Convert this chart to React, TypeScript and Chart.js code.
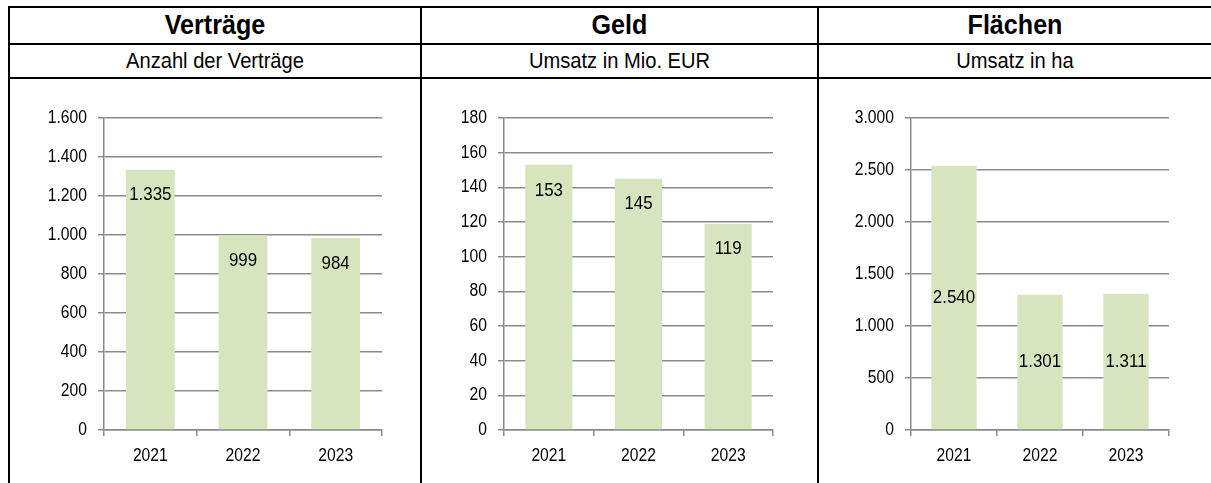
import React, { useEffect, useRef } from "react";
import { Chart, registerables } from "chart.js";

Chart.register(...registerables);

const categories = ["2021", "2022", "2023"];
const vertraegeValues = [1335, 999, 984];
const geldValues = [153, 145, 119];
const flaechenValues = [2540, 1301, 1311];

const vertraegeAxis = [0, 1600, 200];
const geldAxis = [0, 180, 20];
const flaechenAxis = [0, 3000, 500];

const titles = ["Verträge", "Geld", "Flächen"];
const subtitles = ["Anzahl der Verträge", "Umsatz in Mio. EUR", "Umsatz in ha"];

const FONT = "'Liberation Sans', Arial, sans-serif";
const GRID = "#8a8a8a";
const BAR = "#d7e4bd";

function fmt(n: number): string {
  return String(n).replace(/\B(?=(\d{3})+(?!\d))/g, ".");
}

type Spec = {
  values: number[];
  axis: number[];
  mode: "inside" | "center";
  left: number;
  width: number;
  yw: number;
  pr: number;
};

const TOP = 79;
const HEIGHT = 404;
const PT = 39;
const XH = 53;

function drawNarrow(ctx: any, text: string, x: number, y: number, sx: number) {
  ctx.save();
  ctx.translate(x, y);
  ctx.scale(sx, 1);
  ctx.fillText(text, 0, 0);
  ctx.restore();
}

function BarChart({ spec }: { spec: Spec }) {
  const ref = useRef<HTMLCanvasElement | null>(null);
  useEffect(() => {
    if (!ref.current) return;
    const labelPlugin = {
      id: "valueLabels",
      afterDatasetsDraw(chart: any) {
        const ctx = chart.ctx;
        const meta = chart.getDatasetMeta(0);
        ctx.save();
        ctx.fillStyle = "#000";
        ctx.font = `19px ${FONT}`;
        ctx.textAlign = "center";
        ctx.textBaseline = "middle";
        meta.data.forEach((bar: any, i: number) => {
          const p = bar.getProps(["x", "y", "base"], true);
          const ly = spec.mode === "center" ? (p.y + p.base) / 2 : p.y + 25.5;
          drawNarrow(ctx, fmt(spec.values[i]), p.x, ly, 0.89);
        });
        // axis tick labels (condensed)
        const ys = chart.scales.y;
        const xs = chart.scales.x;
        ctx.font = `18px ${FONT}`;
        ctx.textAlign = "right";
        ctx.textBaseline = "middle";
        ys.ticks.forEach((t: any, i: number) => {
          drawNarrow(ctx, fmt(t.value), ys.right - 6 - 11, ys.getPixelForTick(i), 0.87);
        });
        ctx.textAlign = "center";
        ctx.textBaseline = "top";
        categories.forEach((c, i) => {
          drawNarrow(ctx, c, xs.getPixelForTick(i), xs.top + 6 + 11, 0.87);
        });
        ctx.restore();
      },
    };
    const chart = new Chart(ref.current, {
      type: "bar",
      data: {
        labels: categories,
        datasets: [
          {
            data: spec.values,
            backgroundColor: BAR,
            borderWidth: 0,
            barPercentage: 0.526,
            categoryPercentage: 1,
          },
        ],
      },
      options: {
        animation: false,
        responsive: false,
        maintainAspectRatio: false,
        layout: { padding: { left: 0, right: spec.pr, top: PT, bottom: 0 } },
        plugins: { legend: { display: false }, tooltip: { enabled: false } },
        scales: {
          x: {
            grid: {
              display: true,
              drawOnChartArea: false,
              drawTicks: true,
              tickLength: 6,
              color: GRID,
              lineWidth: 1.5,
              offset: true,
            },
            border: { display: true, color: GRID, width: 1.5 },
            ticks: { color: "rgba(0,0,0,0)", font: { family: FONT, size: 16 }, padding: 8 },
            afterFit(s: any) {
              s.height = XH;
            },
          },
          y: {
            min: spec.axis[0],
            max: spec.axis[1],
            ticks: {
              stepSize: spec.axis[2],
              callback: (v: any) => fmt(Number(v)),
              color: "rgba(0,0,0,0)",
              font: { family: FONT, size: 16 },
              padding: 11,
            },
            grid: { color: GRID, lineWidth: 1.5, tickLength: 6, drawTicks: true },
            border: { display: true, color: GRID, width: 1.5 },
            afterFit(s: any) {
              s.width = spec.yw;
            },
          },
        },
      },
      plugins: [labelPlugin],
    } as any);
    return () => chart.destroy();
  }, []);
  return (
    <canvas
      ref={ref}
      width={spec.width}
      height={HEIGHT}
      style={{ position: "absolute", left: spec.left, top: TOP, width: spec.width, height: HEIGHT }}
    />
  );
}

const specs: Spec[] = [
  { values: vertraegeValues, axis: vertraegeAxis, mode: "inside", left: 10, width: 410, yw: 94, pr: 38 },
  { values: geldValues, axis: geldAxis, mode: "inside", left: 422, width: 395, yw: 82, pr: 44 },
  { values: flaechenValues, axis: flaechenAxis, mode: "center", left: 819, width: 392, yw: 92, pr: 42 },
];

const cols = [
  [10, 420],
  [422, 817],
  [819, 1211],
];

export default function App() {
  const line = (l: number, t: number, w: number, h: number, k: string) => (
    <div key={k} style={{ position: "absolute", left: l, top: t, width: w, height: h, background: "#000" }} />
  );
  return (
    <div
      style={{
        position: "absolute",
        left: 0,
        top: 0,
        width: 1211,
        height: 483,
        overflow: "hidden",
        background: "#fff",
        fontFamily: FONT,
      }}
    >
      {line(8, 6, 1203, 2, "t")}
      {line(8, 43, 1203, 2, "h1")}
      {line(8, 77, 1203, 2, "h2")}
      {line(8, 6, 2, 477, "l")}
      {line(420, 6, 2, 477, "d1")}
      {line(817, 6, 2, 477, "d2")}
      {cols.map((c, i) => (
        <div
          key={"t" + i}
          style={{
            position: "absolute",
            left: c[0],
            width: c[1] - c[0],
            top: 8,
            height: 35,
            lineHeight: "35px",
            textAlign: "center",
            fontWeight: "bold",
            fontSize: 27,
            color: "#000",
            transform: "scaleX(0.93)",
          }}
        >
          {titles[i]}
        </div>
      ))}
      {cols.map((c, i) => (
        <div
          key={"s" + i}
          style={{
            position: "absolute",
            left: c[0],
            width: c[1] - c[0],
            top: 45,
            height: 32,
            lineHeight: "32px",
            textAlign: "center",
            fontSize: 22,
            color: "#000",
            transform: "scaleX(0.915)",
          }}
        >
          {subtitles[i]}
        </div>
      ))}
      {specs.map((s, i) => (
        <BarChart key={i} spec={s} />
      ))}
    </div>
  );
}
